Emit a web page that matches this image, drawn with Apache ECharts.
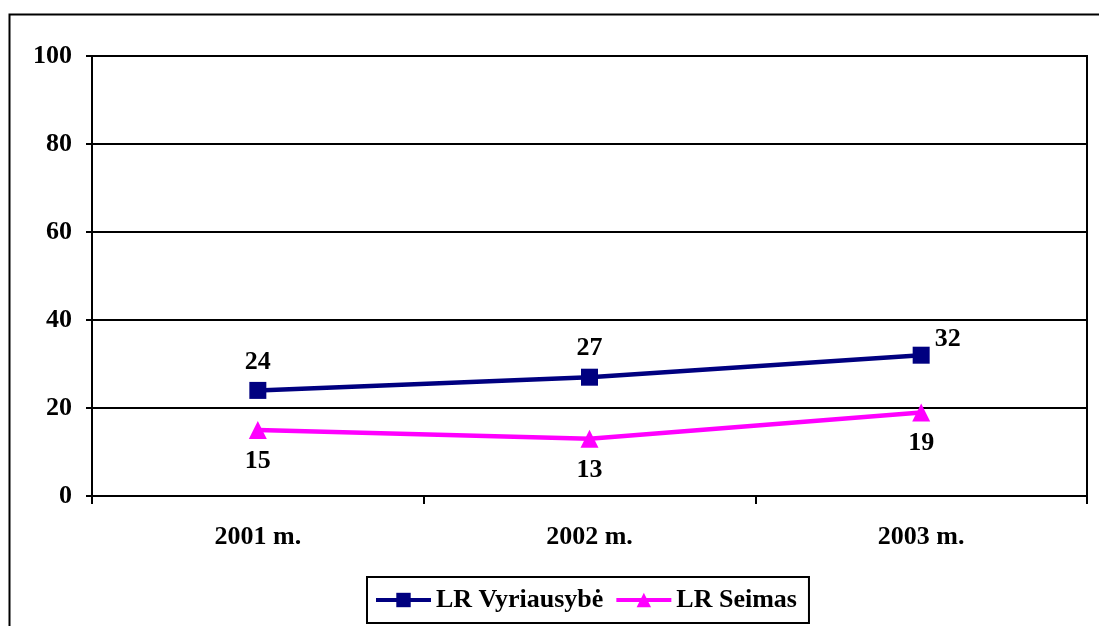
<!DOCTYPE html>
<html><head><meta charset="utf-8">
<script src="https://cdn.jsdelivr.net/npm/echarts@6/dist/echarts.min.js"></script>
<style>html,body{margin:0;padding:0;background:#fff}#c{width:1099px;height:626px}</style>
</head><body><div id="c"></div>
<script>
const categories = ['2001 m.', '2002 m.', '2003 m.'];
const vyriausybe = [24, 27, 32];
const seimas = [15, 13, 19];
const yTicks = [0, 20, 40, 60, 80, 100];

const FONT = 'Liberation Serif, Times New Roman, serif';
const FS = 26;
const chart = echarts.init(document.getElementById('c'));
chart.setOption({
  animation: false,
  backgroundColor: '#fff',
  graphic: [{
    type: 'rect', left: 7, top: 12, silent: true,
    shape: { width: 1200, height: 800 },
    style: { fill: 'none', stroke: '#000', lineWidth: 2 }
  }],
  grid: { left: 92, top: 56, right: 12, bottom: 130, show: true, borderColor: '#000', borderWidth: 2, backgroundColor: 'transparent' },
  xAxis: {
    type: 'category', data: categories, boundaryGap: true,
    axisLine: { lineStyle: { color: '#000', width: 2 } },
    axisTick: { show: true, length: 8, inside: false, lineStyle: { color: '#000', width: 2 } },
    axisLabel: { color: '#000', fontFamily: FONT, fontWeight: 'bold', fontSize: FS, margin: 28 }
  },
  yAxis: {
    type: 'value', min: yTicks[0], max: yTicks[yTicks.length - 1], interval: 20,
    axisLine: { show: true, lineStyle: { color: '#000', width: 2 } },
    axisTick: { show: true, length: 6, lineStyle: { color: '#000', width: 2 } },
    splitLine: { show: true, lineStyle: { color: '#000', width: 2 } },
    axisLabel: { color: '#000', fontFamily: FONT, fontWeight: 'bold', fontSize: FS, margin: 20 }
  },
  legend: {
    left: 367, top: 577, orient: 'horizontal',
    borderColor: '#000', borderWidth: 2, padding: [10, 12, 10, 7],
    itemWidth: 55, itemHeight: 18, itemGap: 11,
    lineStyle: { width: 4 },
    textStyle: { color: '#000', fontFamily: FONT, fontWeight: 'bold', fontSize: FS },
    data: ['LR Vyriausybė', 'LR Seimas']
  },
  series: [{
    name: 'LR Vyriausybė', type: 'line', data: vyriausybe.map((v, i) => i === 2 ? { value: v, label: { position: 'right', distance: 5, offset: [0, -16] } } : v),
    color: '#000080', symbol: 'rect', symbolSize: 17,
    lineStyle: { width: 4.5, color: '#000080' }, itemStyle: { color: '#000080' },
    label: { show: true, position: 'top', distance: 7, color: '#000', fontFamily: FONT, fontWeight: 'bold', fontSize: FS }
  }, {
    name: 'LR Seimas', type: 'line', data: seimas,
    color: '#ff00ff', symbol: 'triangle', symbolSize: 18,
    lineStyle: { width: 4.5, color: '#ff00ff' }, itemStyle: { color: '#ff00ff' },
    label: { show: true, position: 'bottom', distance: 9, color: '#000', fontFamily: FONT, fontWeight: 'bold', fontSize: FS }
  }]
});
</script></body></html>
